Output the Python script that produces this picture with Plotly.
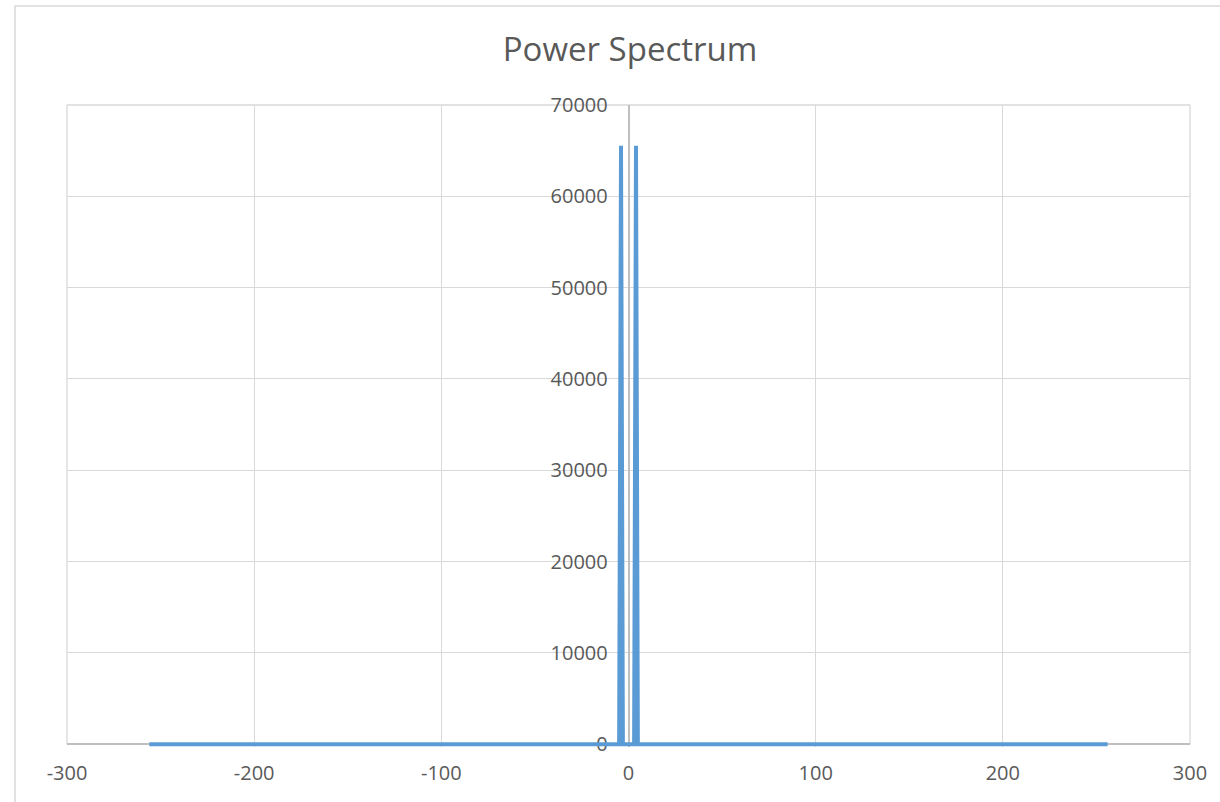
import plotly.graph_objects as go

# Frequency bins (spectrum spans about -256..256)
bin_start = -256
bin_stop = 256
freq_bins = list(range(bin_start, bin_stop + 1))

# Peaks (all other bins ~0)
peak_bins = [-4, 4]
peak_values = [65536, 65536]

power = []
for f in freq_bins:
    if f in peak_bins:
        power.append(peak_values[peak_bins.index(f)])
    else:
        power.append(0)

x_ticks = [-300, -200, -100, 0, 100, 200, 300]
y_ticks = [0, 10000, 20000, 30000, 40000, 50000, 60000, 70000]

W, H = 1220, 802
# y range is padded slightly below 0 so the zero-level line is not clipped
y_lo, y_hi = -300, 70000
top_px, zero_px = 105, 744
bottom_px = zero_px + (0 - y_lo) * (zero_px - top_px) / y_hi
L, R, T = 67, 30, top_px
B = H - bottom_px
pw = W - L - R
ph = bottom_px - T
axis_pos = (0 - y_lo) / (y_hi - y_lo)

fig = go.Figure()
fig.add_trace(go.Scatter(
    x=freq_bins, y=power, mode="lines",
    line=dict(color="#5b9bd5", width=4),
    showlegend=False, hoverinfo="x+y",
))

font = "Open Sans, Liberation Sans, sans-serif"
fig.update_layout(
    width=W, height=H,
    margin=dict(l=L, r=R, t=T, b=B),
    paper_bgcolor="white", plot_bgcolor="white",
    font=dict(family=font, color="#595959", size=20),
    title=dict(text="Power Spectrum", x=630 / W, xanchor="center",
               xref="container", yref="container",
               y=1 - 49 / H, yanchor="middle",
               font=dict(size=33, color="#595959", family=font)),
    xaxis=dict(range=[-300, 300], tickvals=x_ticks,
               ticktext=[str(v) for v in x_ticks],
               showgrid=True, gridcolor="#d9d9d9", gridwidth=1.3,
               zeroline=False, showline=True, linecolor="#bfbfbf", linewidth=1.5,
               anchor="free", position=axis_pos, layer="below traces",
               ticks="", ticklabelstandoff=11,
               tickfont=dict(size=20, color="#595959")),
    yaxis=dict(range=[y_lo, y_hi], tickvals=y_ticks,
               ticktext=[str(v) for v in y_ticks],
               showgrid=True, gridcolor="#d9d9d9", gridwidth=1.3,
               zeroline=False, showline=True, linecolor="#bfbfbf", linewidth=1.5,
               anchor="free", position=0.5, layer="below traces",
               ticks="", ticklabelstandoff=16,
               tickfont=dict(size=20, color="#595959")),
)

# Outer chart-area border (Excel style)
fig.add_shape(type="rect", xref="paper", yref="paper",
              x0=(15 - L) / pw, x1=(W + 20 - L) / pw,
              y0=-(H + 20 - bottom_px) / ph, y1=1 + (T - 6) / ph,
              line=dict(color="#d9d9d9", width=1.5), fillcolor="rgba(0,0,0,0)",
              layer="below")
# top, right and left edges of plot box (gridlines at range ends)
fig.add_shape(type="line", xref="paper", yref="paper", x0=0, x1=1, y0=1, y1=1,
              line=dict(color="#d9d9d9", width=1.3), layer="below")
fig.add_shape(type="line", xref="paper", yref="paper", x0=1, x1=1, y0=axis_pos, y1=1,
              line=dict(color="#d9d9d9", width=1.3), layer="below")
fig.add_shape(type="line", xref="paper", yref="paper", x0=0, x1=0, y0=axis_pos, y1=1,
              line=dict(color="#d9d9d9", width=1.3), layer="below")

fig.write_html("out.html", config={"displayModeBar": False},
               post_script="document.body.style.margin='0';document.body.style.overflow='hidden';")
